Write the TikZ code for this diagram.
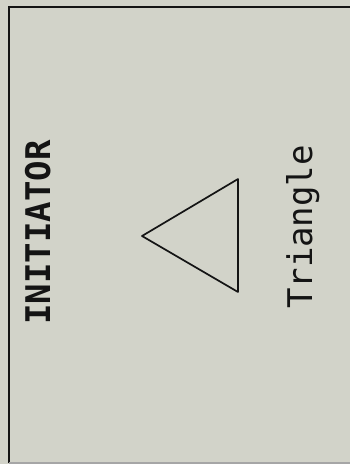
\documentclass[tikz,border=0pt]{standalone}
\usepackage{fontspec}
\newfontfamily\monofont{DejaVu Sans Mono}
\definecolor{paper}{RGB}{210,211,201}
\definecolor{ink}{RGB}{20,20,20}
\begin{document}
\begin{tikzpicture}[x=1pt,y=-1pt,
  frameline/.style={draw=ink,line width=1.8pt},
  shapeline/.style={draw=ink,line width=1.7pt,line join=round},
  label/.style={inner sep=0pt,anchor=base,rotate=90,text=ink,font=\monofont\fontsize{34}{34}\selectfont}]
\fill[paper] (0,0) rectangle (350,464);
\useasboundingbox (0,0) rectangle (350,464);
% frame
\coordinate (tl) at (9,7);
\coordinate (tr) at (350,7);
\coordinate (bl) at (9,463);
\coordinate (br) at (350,463);
\draw[frameline] (tr) -- (tl) -- (bl);
\draw[draw=gray!70,line width=1.2pt] (bl) -- (br);
% triangle
\coordinate (apex) at (142,236);
\coordinate (top) at (238,179);
\coordinate (bot) at (238,292);
\draw[shapeline] (apex) -- (top) -- (bot) -- cycle;
% labels
\node[label,font=\monofont\bfseries\fontsize{34}{34}\selectfont] (init) at (50,232.5) {INITIATOR};
\node[label] (tri) at (312,227) {Triangle};
\end{tikzpicture}
\end{document}
